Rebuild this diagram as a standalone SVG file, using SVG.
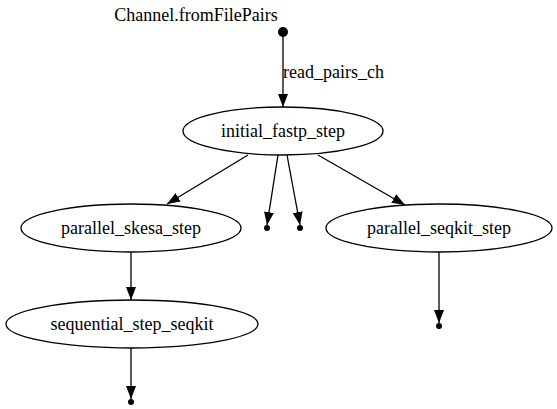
<svg xmlns="http://www.w3.org/2000/svg" width="557" height="409" viewBox="0 0 557 409" font-family="Liberation Serif, Times New Roman, DejaVu Serif, serif">
<style>
text{font-family:'Liberation Serif','Times New Roman','DejaVu Serif',serif;font-size:18px;fill:#000}
.n ellipse{fill:none;stroke:#000;stroke-width:1.3}
.e line{stroke:#000;stroke-width:1.3;marker-end:url(#ah)}
.pt{fill:#000}
</style>
<defs>
<marker id="ah" viewBox="0 0 13 10" refX="13" refY="5" markerWidth="13" markerHeight="10" markerUnits="userSpaceOnUse" orient="auto">
<path d="M0,0 L13,5 L0,10 z" fill="#000"/>
</marker>
</defs>
<rect width="557" height="409" fill="#fff"/>
<g id="connectors" class="e">
<line x1="283" y1="32" x2="283" y2="107"/>
<line x1="248" y1="155" x2="167" y2="204"/>
<line x1="278" y1="155" x2="267" y2="225"/>
<line x1="287" y1="155" x2="300" y2="225"/>
<line x1="318" y1="155" x2="405" y2="205"/>
<line x1="131" y1="252" x2="131" y2="300"/>
<line x1="439" y1="252" x2="439" y2="323"/>
<line x1="131" y1="348" x2="131" y2="399"/>
<text x="283" y="78">read_pairs_ch</text>
</g>
<g id="source">
<circle class="pt" cx="283" cy="32" r="5"/>
<text x="196" y="21" text-anchor="middle">Channel.fromFilePairs</text>
</g>
<g id="initial_fastp_step" class="n">
<ellipse cx="283" cy="131" rx="100" ry="24"/>
<text x="283" y="137" text-anchor="middle">initial_fastp_step</text>
</g>
<g id="parallel_skesa_step" class="n">
<ellipse cx="131" cy="228" rx="110" ry="24"/>
<text x="131" y="234" text-anchor="middle">parallel_skesa_step</text>
</g>
<g id="parallel_seqkit_step" class="n">
<ellipse cx="439" cy="228" rx="113" ry="24"/>
<text x="439" y="234" text-anchor="middle">parallel_seqkit_step</text>
</g>
<g id="sequential_step_seqkit" class="n">
<ellipse cx="132" cy="324" rx="126" ry="24"/>
<text x="132" y="330" text-anchor="middle">sequential_step_seqkit</text>
</g>
<g id="sink1"><circle class="pt" cx="267" cy="228" r="3"/></g>
<g id="sink2"><circle class="pt" cx="300" cy="228" r="3"/></g>
<g id="sink3"><circle class="pt" cx="439" cy="326" r="3"/></g>
<g id="sink4"><circle class="pt" cx="131" cy="402" r="3"/></g>
</svg>
